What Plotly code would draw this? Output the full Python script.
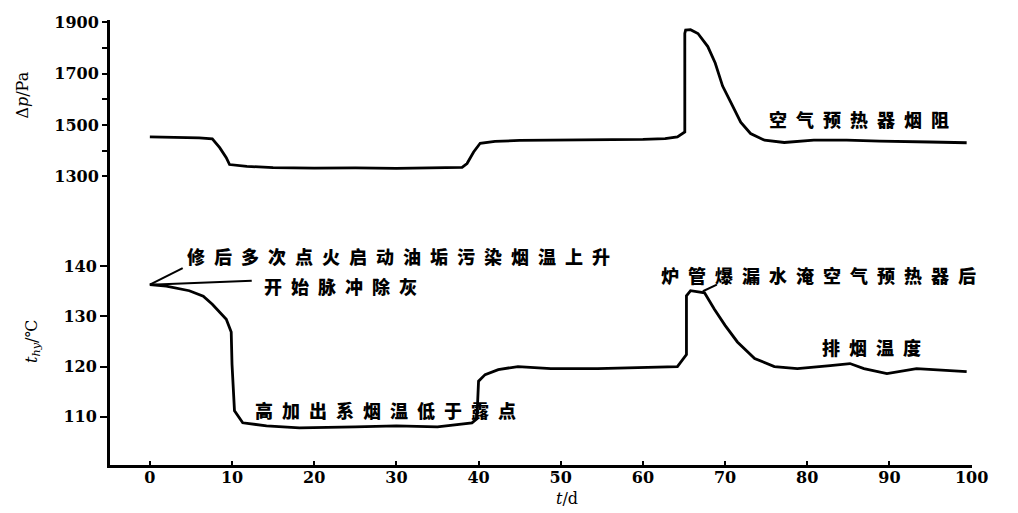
import plotly.graph_objects as go

# ---- data ----
dp_days = [0, 3, 6, 7.6, 8.5, 9.3, 9.7, 11.8, 15, 20, 25, 30, 35, 38.0, 38.6, 39.4, 40.2, 42, 45, 50,
           55, 60, 62.7, 64.2, 65.1, 65.1, 65.2, 65.8, 66.7, 67.9, 68.8, 69.7, 70.7, 71.9, 73.1, 74.8,
           77.2, 80.8, 84.8, 88.8, 94.9, 99.4]
dp_values = [1454, 1452, 1450, 1446, 1412, 1373, 1346, 1339, 1334, 1332, 1333, 1331, 1333, 1335, 1350,
             1395, 1429, 1436, 1440, 1441, 1442, 1444, 1447, 1454, 1473, 1857, 1870, 1872, 1857, 1806,
             1742, 1652, 1588, 1511, 1467, 1441, 1432, 1441, 1441, 1437, 1434, 1431]

t_days = [0, 2, 4.8, 6.5, 7.6, 9.3, 9.9, 10.0, 10.3, 11.3, 14.2, 18.2, 25, 30, 35, 39.2, 39.8, 40.0,
          40.8, 42.4, 44.8, 48.8, 54.5, 60, 64.2, 65.3, 65.3, 65.8, 67.5, 68.7, 70, 71.5, 73.6, 76,
          78.8, 82.8, 85.2, 86.9, 89.7, 93.3, 99.4]
t_values = [136.3, 136.0, 135.1, 134.0, 132.4, 129.4, 126.9, 120.4, 111.2, 108.8, 108.2, 107.8, 108.0,
            108.2, 108.0, 108.8, 109.6, 117.1, 118.4, 119.4, 120.0, 119.6, 119.6, 119.8, 120.0, 122.4,
            134.1, 135.1, 134.7, 131.4, 128.2, 124.9, 121.6, 120.0, 119.6, 120.2, 120.6, 119.6, 118.6,
            119.6, 119.0]

x_ticks = [0, 10, 20, 30, 40, 50, 60, 70, 80, 90, 100]
dp_ticks = [1300, 1500, 1700, 1900]
dp_minor = [1400, 1600, 1800]
t_ticks = [110, 120, 130, 140]

SP = "\u2002"
def spaced(s):
    return SP.join(list(s))

CJK = dict(family="Noto Sans CJK SC", size=18, color="black", weight=900)
NUM = dict(family="DejaVu Serif", size=16, color="black", weight="bold")

fig = go.Figure()
fig.add_trace(go.Scatter(x=dp_days, y=dp_values, mode="lines", yaxis="y",
                         line=dict(color="black", width=2.8), showlegend=False))
fig.add_trace(go.Scatter(x=t_days, y=t_values, mode="lines", yaxis="y2",
                         line=dict(color="black", width=2.8), showlegend=False))

split = 0.553
fig.update_layout(
    width=1010, height=505,
    margin=dict(l=102, r=46, t=5, b=48),
    paper_bgcolor="white", plot_bgcolor="white",
    xaxis=dict(range=[-4.85, 100.05], anchor="y2", showline=True, linewidth=3, linecolor="black",
               tickvals=x_ticks, ticks="inside", ticklen=4, tickwidth=2, tickcolor="black",
               tickfont=NUM, ticklabelstandoff=-4, ticklabeloverflow="allow",
               showgrid=False, zeroline=False),
    yaxis=dict(domain=[split, 1], range=[1134, 1909.6], anchor="x", showline=True, linewidth=3,
               linecolor="black", tickvals=dp_ticks, ticks="outside", ticklen=5, tickwidth=2,
               tickcolor="black", tickfont=NUM, ticklabeloverflow="allow",
               showgrid=False, zeroline=False,
               minor=dict(tickvals=dp_minor, ticks="outside", ticklen=5, tickwidth=2,
                          tickcolor="black", showgrid=False)),
    yaxis2=dict(domain=[0, split], range=[100.4, 149.4], anchor="x", showline=True, linewidth=3,
                linecolor="black", tickvals=t_ticks, ticks="outside", ticklen=7, tickwidth=2,
                tickcolor="black", tickfont=NUM, ticklabeloverflow="allow",
                showgrid=False, zeroline=False),
)

ann = []
# axis titles
ann.append(dict(text="Δ<i>p</i>/Pa", xref="paper", yref="paper", x=0, y=split + (1 - split) * 0.62,
                xshift=-87, textangle=-90, showarrow=False, xanchor="center", yanchor="middle",
                font=dict(family="DejaVu Serif", size=16, color="black")))
ann.append(dict(text="<i>t</i><sub><i>hy</i></sub>/℃", xref="paper", yref="paper", x=0,
                y=split * 0.5, xshift=-77, textangle=-90, showarrow=False,
                xanchor="center", yanchor="middle",
                font=dict(family="DejaVu Serif", size=16, color="black")))
ann.append(dict(text="<i>t</i>/d", xref="x", yref="paper", x=50.8, y=0, yshift=-33,
                showarrow=False, xanchor="center", yanchor="middle",
                font=dict(family="DejaVu Serif", size=16, color="black")))

# chart labels
labels = [
    ("修后多次点火启动油垢污染烟温上升", 4.3, 142.0, "y2"),
    ("开始脉冲除灰", 13.6, 136.1, "y2"),
    ("高加出系烟温低于露点", 12.6, 111.3, "y2"),
    ("炉管爆漏水淹空气预热器后", 62.0, 138.3, "y2"),
    ("排烟温度", 81.5, 123.9, "y2"),
    ("空气预热器烟阻", 75.1, 1525, "y"),
]
for txt, lx, ly, yr in labels:
    ann.append(dict(text=spaced(txt), x=lx, y=ly, xref="x", yref=yr, showarrow=False,
                    xanchor="left", yanchor="middle", font=CJK))
fig.update_layout(annotations=ann)

# leader lines
fig.add_shape(type="line", xref="x", yref="y2", x0=0, y0=136.3, x1=4.0, y1=139.6,
              line=dict(color="black", width=2))
fig.add_shape(type="line", xref="x", yref="y2", x0=0, y0=136.3, x1=12.4, y1=137.1,
              line=dict(color="black", width=2))
fig.add_shape(type="line", xref="x", yref="y2", x0=67.3, y0=135.0, x1=69.0, y1=136.3,
              line=dict(color="black", width=2))

fig.write_html("out.html")
